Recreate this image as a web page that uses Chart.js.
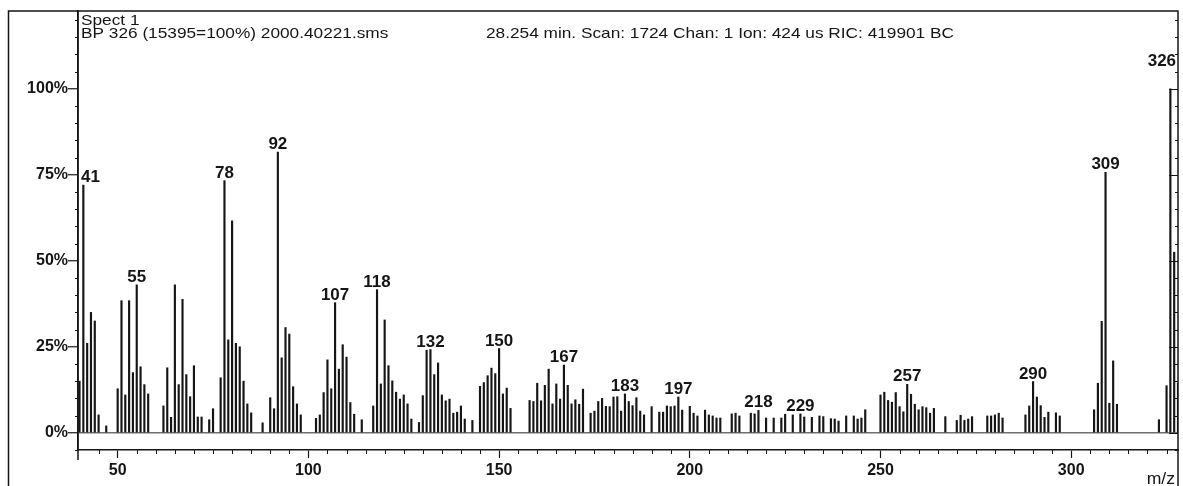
<!DOCTYPE html>
<html>
<head>
<meta charset="utf-8">
<script src="https://cdn.jsdelivr.net/npm/chart.js@4.4.1/dist/chart.umd.min.js"></script>
<style>
  html, body { margin: 0; padding: 0; background: #fff; }
  #wrap { width: 1183px; height: 486px; }
</style>
</head>
<body>
<div id="wrap"><canvas id="spectrum" width="1183" height="486"></canvas></div>
<script>
// Spectrum peaks: m/z and relative intensity (%)
const mzValues = [
  40, 41, 42, 43, 44, 45, 47,
  50, 51, 52, 53, 54, 55, 56, 57, 58,
  62, 63, 64, 65, 66, 67, 68, 69, 70, 71, 72, 74, 75,
  77, 78, 79, 80, 81, 82, 83, 84, 85, 88,
  90, 91, 92, 93, 94, 95, 96, 97, 98,
  102, 103, 104, 105, 106, 107, 108, 109, 110, 111, 112, 114,
  117, 118, 119, 120, 121, 122, 123, 124, 125, 126, 127,
  129, 130, 131, 132, 133, 134, 135, 136, 137, 138, 139, 140, 141, 143,
  145, 146, 147, 148, 149, 150, 151, 152, 153,
  158, 159, 160, 161, 162, 163, 164, 165, 166, 167, 168, 169, 170, 171, 172,
  174, 175, 176, 177, 178, 179, 180, 181, 182, 183, 184, 185, 186, 187, 188,
  190, 192, 193, 194, 195, 196, 197, 198, 200, 201, 202, 204, 205, 206, 207, 208,
  211, 212, 213, 216, 217, 218, 220, 222, 224, 225, 227, 229, 230, 232, 234, 235,
  237, 238, 239, 241, 243, 244, 245, 246,
  250, 251, 252, 253, 254, 255, 256, 257, 258, 259, 260, 261, 262, 263, 264, 267,
  270, 271, 272, 273, 274, 278, 279, 280, 281, 282,
  288, 289, 290, 291, 292, 293, 294, 296, 297,
  306, 307, 308, 309, 310, 311, 312,
  323, 325, 326, 327, 328
];
const intensities = [
  15, 72, 26, 35, 32.5, 5.2, 2,
  12.8, 38.4, 11, 38.4, 17.5, 43, 19.2, 14, 11.3,
  7.8, 18.9, 4.5, 43, 14, 38.8, 16.9, 10.5, 19.5, 4.6, 4.6, 3.8, 7,
  16, 73.3, 27, 61.6, 26, 25, 15, 8.4, 5.8, 2.9,
  10.2, 7, 81.6, 21.8, 30.6, 28.7, 13.4, 8.4, 5.2,
  4.2, 5.2, 11.7, 21.2, 12.8, 37.8, 18.5, 25.6, 22, 8.8, 5.4, 3.8,
  7.8, 41.6, 14.2, 32.8, 19.5, 15.1, 11.8, 9.8, 11, 8.4, 4,
  3, 10.8, 24, 24.2, 16.9, 20.3, 11, 9.3, 9.8, 5.7, 6, 7.8, 4, 3.6,
  13.5, 14.6, 16.6, 18.8, 17.2, 24.5, 11.3, 13, 7.1,
  9.4, 9.1, 14.4, 9.3, 13.8, 18.5, 8.4, 14.2, 9.8, 19.7, 13.8, 8.4, 9.6, 8.3, 12.7,
  5.7, 6.3, 9.1, 10, 7.7, 7.6, 10.4, 10.5, 6.3, 11.3, 9.1, 7.9, 10.2, 6.3, 5.2,
  7.6, 6, 6, 7.8, 7.6, 7.8, 10.4, 6.6, 7.7, 5.7, 4.9, 6.6, 5.2, 4.9, 4.3, 4.3,
  5.5, 5.7, 4.9, 5.7, 5.5, 6.5, 4.3, 4.3, 4.3, 5.4, 5.2, 5.5, 4.6, 4.5, 4.9, 4.7,
  4.1, 4, 3.4, 4.9, 4.9, 4, 4.3, 6.7,
  11, 11.8, 9.4, 8.9, 11.7, 7.6, 6.1, 14.1, 11.2, 8.3, 6.7, 7.6, 7.3, 5.7, 7.1, 4.7,
  3.6, 5.1, 3.6, 4, 4.7, 4.9, 4.9, 5.2, 5.7, 4.3,
  5.2, 7.8, 14.9, 10.4, 7.9, 4.5, 6, 5.8, 4.9,
  6.7, 14.4, 32.4, 75.7, 8.6, 20.9, 8.3,
  3.8, 13.7, 100, 52.5, 14.4
];
// peaks that carry an m/z label
const labelledPeaks = [41, 55, 78, 92, 107, 118, 132, 150, 167, 183, 197, 218, 229, 257, 290, 309, 326];

const xTickValues = [50, 100, 150, 200, 250, 300];
const yTickValues = [0, 25, 50, 75, 100];

const headerLines = ['Spect 1', 'BP 326 (15395=100%) 2000.40221.sms'];
const scanInfo = '28.254 min. Scan: 1724 Chan: 1 Ion: 424 us RIC: 419901 BC';
const xTitle = 'm/z';

const FONT = '"Liberation Sans", Arial, sans-serif';
const INK = '#151515';

// text drawn a little wider than the font's natural width
function wideText(ctx, text, x, y, align, stretch) {
  const w = ctx.measureText(text).width * stretch;
  const left = align === 'center' ? x - w / 2 : align === 'right' ? x - w : x;
  ctx.save();
  ctx.translate(left, y);
  ctx.scale(stretch, 1);
  ctx.textAlign = 'left';
  ctx.fillText(text, 0, 0);
  ctx.restore();
  return left;
}

const spectrumDecor = {
  id: 'spectrumDecor',
  afterDraw(chart) {
    const { ctx, chartArea: area, scales: { x, y } } = chart;
    ctx.save();
    ctx.strokeStyle = INK;
    ctx.fillStyle = INK;

    // outer frame (left, top, right) and the long left axis
    ctx.lineWidth = 1.5;
    ctx.beginPath();
    ctx.moveTo(8.5, chart.height);
    ctx.lineTo(8.5, area.top);
    ctx.lineTo(area.right, area.top);
    ctx.lineTo(area.right, chart.height);
    ctx.moveTo(area.left, area.top);
    ctx.lineTo(area.left, area.bottom + 10);
    ctx.stroke();

    // small ticks every 5 % on both vertical edges, longer ones inside the right edge
    ctx.lineWidth = 1;
    for (let v = -5; v <= 120; v += 5) {
      const py = Math.round(y.getPixelForValue(v)) + 0.5;
      const major = yTickValues.includes(v);
      ctx.beginPath();
      if (!major) {
        ctx.moveTo(area.left - 3, py);
        ctx.lineTo(area.left, py);
      }
      ctx.moveTo(area.right - (major ? 9 : 3), py);
      ctx.lineTo(area.right, py);
      ctx.stroke();
    }
    // small ticks every 5 m/z along the bottom axis
    for (let m = 45; m < x.max; m += 5) {
      if (xTickValues.includes(m)) continue;
      const px = Math.round(x.getPixelForValue(m)) + 0.5;
      ctx.beginPath();
      ctx.moveTo(px, area.bottom);
      ctx.lineTo(px, area.bottom + 4);
      ctx.stroke();
    }

    // header lines
    ctx.textBaseline = 'alphabetic';
    ctx.font = '15px ' + FONT;
    wideText(ctx, headerLines[0], area.left + 3, 25, 'left', 1.15);
    wideText(ctx, headerLines[1], area.left + 3, 38, 'left', 1.15);
    wideText(ctx, scanInfo, 486, 38, 'left', 1.15);

    // axis title
    ctx.font = '16px ' + FONT;
    wideText(ctx, xTitle, area.right - 3, 484, 'right', 1.1);

    // peak labels above their bars, kept inside the plot frame
    ctx.font = 'bold 16px ' + FONT;
    const lift = { 326: 20 };
    labelledPeaks.forEach(mz => {
      const val = intensities[mzValues.indexOf(mz)];
      const stretch = 1.06;
      const w = ctx.measureText(String(mz)).width * stretch;
      let cx = x.getPixelForValue(mz);
      cx = Math.max(cx, area.left + 3 + w / 2);
      cx = Math.min(cx, area.right - 2 - w / 2);
      const py = y.getPixelForValue(val) - 3 - (lift[mz] || 0);
      wideText(ctx, String(mz), cx, py, 'center', stretch);
    });
    ctx.restore();
  }
};

new Chart(document.getElementById('spectrum'), {
  type: 'bar',
  data: {
    datasets: [{
      data: mzValues.map((m, i) => ({ x: m, y: intensities[i] })),
      backgroundColor: INK,
      borderWidth: 0,
      barThickness: 1.5
    }]
  },
  options: {
    responsive: false,
    animation: false,
    events: [],
    layout: { padding: { top: 11, right: 5, left: 0, bottom: 0 } },
    plugins: { legend: { display: false }, tooltip: { enabled: false } },
    scales: {
      x: {
        type: 'linear',
        min: 39.6,
        max: 328,
        offset: false,
        afterBuildTicks: s => { s.ticks = xTickValues.map(v => ({ value: v })); },
        afterFit: s => { s.height = 36; },
        grid: { drawOnChartArea: false, offset: false, tickLength: 8, tickColor: INK, tickWidth: 1.2 },
        border: { color: INK, width: 1.5 },
        ticks: {
          autoSkip: false, maxRotation: 0, padding: 3, color: INK,
          font: { family: FONT, size: 16, weight: 'bold' }
        }
      },
      y: {
        min: -5,
        max: 122.6,
        afterBuildTicks: s => { s.ticks = yTickValues.map(v => ({ value: v })); },
        afterFit: s => { s.width = 78; },
        grid: {
          color: c => (c.tick && c.tick.value === 0 ? '#707070' : 'rgba(0,0,0,0)'),
          lineWidth: 1.5,
          tickLength: 10,
          tickColor: INK,
          tickWidth: 1.2
        },
        border: { color: INK, width: 1.5 },
        ticks: {
          padding: 0, color: INK,
          font: { family: FONT, size: 16, weight: 'bold' },
          callback: v => v + '%'
        }
      }
    }
  },
  plugins: [spectrumDecor]
});
</script>
</body>
</html>
